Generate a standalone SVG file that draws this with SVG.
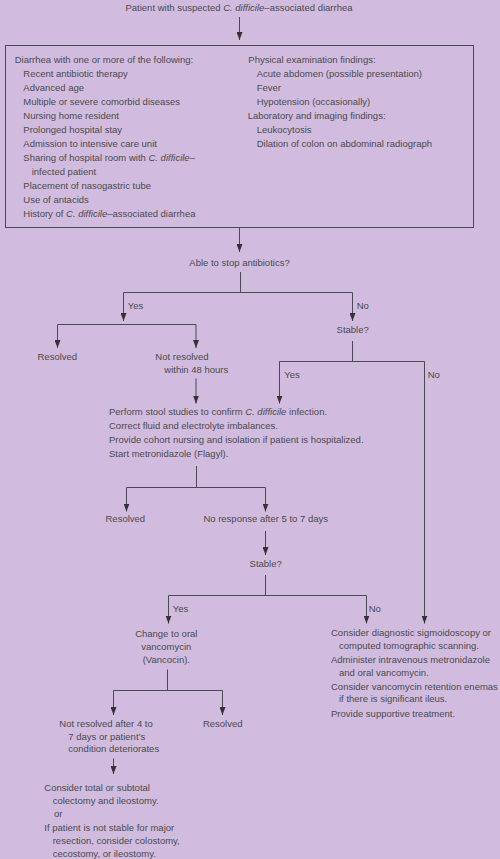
<svg xmlns="http://www.w3.org/2000/svg" width="500" height="859" viewBox="0 0 500 859">
<defs>
<marker id="ah" viewBox="0 0 8 6" markerWidth="8" markerHeight="6" refX="8" refY="3" orient="auto" markerUnits="userSpaceOnUse">
<path d="M0,0 L8,3 L0,6 Z" fill="#333"/>
</marker>
<style>
text{font-family:"Liberation Sans",Arial,sans-serif;font-size:9.5px;fill:#4a4a4a}
.c{text-anchor:middle}
.i{font-style:italic}
.ln{fill:none;stroke:#4a4a52;stroke-width:1}
.ar{fill:none;stroke:#4a4a52;stroke-width:1;marker-end:url(#ah)}
</style>
</defs>
<rect x="0" y="0" width="500" height="859" fill="#D1BCDF"/>

<g id="connectors">
<line class="ar" x1="239.5" y1="17" x2="239.5" y2="40"/>
<line class="ar" x1="239.5" y1="228" x2="239.5" y2="252"/>
<path class="ln" d="M240.5,272 V292.5 M123.5,292.5 H352.5"/>
<line class="ar" x1="123.5" y1="292.5" x2="123.5" y2="321"/>
<line class="ar" x1="352.5" y1="292.5" x2="352.5" y2="321"/>
<path class="ln" d="M57.5,324.5 H196"/>
<line class="ar" x1="57.5" y1="324.5" x2="57.5" y2="348"/>
<line class="ar" x1="196" y1="324.5" x2="196" y2="348"/>
<line class="ar" x1="196" y1="378.5" x2="196" y2="403.5"/>
<path class="ln" d="M352.5,341 V361.5 M279.5,361.5 H424.5"/>
<line class="ar" x1="279.5" y1="361.5" x2="279.5" y2="403.5"/>
<line class="ar" x1="424.5" y1="361.5" x2="424.5" y2="623.5"/>
<path class="ln" d="M196.5,466 V487.5 M126.5,487.5 H265.5"/>
<line class="ar" x1="126.5" y1="487.5" x2="126.5" y2="511.5"/>
<line class="ar" x1="265.5" y1="487.5" x2="265.5" y2="511.5"/>
<line class="ar" x1="265.5" y1="531" x2="265.5" y2="555"/>
<path class="ln" d="M265.5,575 V595.5 M168.5,595.5 H366.5"/>
<line class="ar" x1="168.5" y1="595.5" x2="168.5" y2="623.5"/>
<line class="ar" x1="366.5" y1="595.5" x2="366.5" y2="623.5"/>
<path class="ln" d="M167.5,669.5 V690.5 M113.5,690.5 H222.5"/>
<line class="ar" x1="113.5" y1="690.5" x2="113.5" y2="715"/>
<line class="ar" x1="222.5" y1="690.5" x2="222.5" y2="715"/>
<line class="ar" x1="113.5" y1="758.5" x2="113.5" y2="774"/>
</g>

<g id="start">
<text class="c" x="239" y="10.5">Patient with suspected <tspan class="i">C. difficile</tspan>–associated diarrhea</text>
</g>

<g id="criteria">
<rect x="5.5" y="45.5" width="468" height="182" fill="none" stroke="#4a4a52" stroke-width="1"/>
<text x="14.7" y="62.5">Diarrhea with one or more of the following:</text>
<text x="23.3" y="76.5">Recent antibiotic therapy</text>
<text x="23.3" y="90.5">Advanced age</text>
<text x="23.3" y="104.5">Multiple or severe comorbid diseases</text>
<text x="23.3" y="118.5">Nursing home resident</text>
<text x="23.3" y="132.5">Prolonged hospital stay</text>
<text x="23.3" y="146.5">Admission to intensive care unit</text>
<text x="23.3" y="160.5">Sharing of hospital room with <tspan class="i">C. difficile</tspan>–</text>
<text x="31.7" y="174.5">infected patient</text>
<text x="23.3" y="188.5">Placement of nasogastric tube</text>
<text x="23.3" y="202.5">Use of antacids</text>
<text x="23.3" y="216.5">History of <tspan class="i">C. difficile</tspan>–associated diarrhea</text>
<text x="248.3" y="62.5">Physical examination findings:</text>
<text x="256.7" y="76.5">Acute abdomen (possible presentation)</text>
<text x="256.7" y="90.5">Fever</text>
<text x="256.7" y="104.5">Hypotension (occasionally)</text>
<text x="247.7" y="118.5">Laboratory and imaging findings:</text>
<text x="256.7" y="132.5">Leukocytosis</text>
<text x="256.7" y="146.5">Dilation of colon on abdominal radiograph</text>
</g>

<g id="q-antibiotics">
<text class="c" x="239.5" y="265.5">Able to stop antibiotics?</text>
</g>
<g id="lbl-yes1"><text x="127.7" y="309">Yes</text></g>
<g id="lbl-no1"><text x="356.7" y="309">No</text></g>

<g id="q-stable1">
<text class="c" x="352.7" y="333">Stable?</text>
</g>
<g id="resolved1"><text class="c" x="57.3" y="360">Resolved</text></g>
<g id="not-resolved-48">
<text x="155.3" y="360">Not resolved</text>
<text x="164.3" y="373">within 48 hours</text>
</g>
<g id="lbl-yes2"><text x="284.3" y="378">Yes</text></g>
<g id="lbl-no2"><text x="427.7" y="378">No</text></g>

<g id="stool-studies">
<text x="109" y="414.7">Perform stool studies to confirm <tspan class="i">C. difficile</tspan> infection.</text>
<text x="109" y="428.9">Correct fluid and electrolyte imbalances.</text>
<text x="109" y="443.1">Provide cohort nursing and isolation if patient is hospitalized.</text>
<text x="109" y="457.3">Start metronidazole (Flagyl).</text>
</g>

<g id="resolved2"><text class="c" x="125.3" y="522">Resolved</text></g>
<g id="no-response"><text class="c" x="265.7" y="522">No response after 5 to 7 days</text></g>
<g id="q-stable2"><text class="c" x="265.7" y="567.3">Stable?</text></g>
<g id="lbl-yes3"><text x="172.7" y="612">Yes</text></g>
<g id="lbl-no3"><text x="368.7" y="612">No</text></g>

<g id="vancomycin">
<text class="c" x="166.3" y="637">Change to oral</text>
<text class="c" x="166.3" y="650">vancomycin</text>
<text class="c" x="166.3" y="663.3">(Vancocin).</text>
</g>

<g id="severe-treatment">
<text x="331" y="635.7">Consider diagnostic sigmoidoscopy or</text>
<text x="339" y="648.7">computed tomographic scanning.</text>
<text x="331" y="662.7">Administer intravenous metronidazole</text>
<text x="339" y="675.7">and oral vancomycin.</text>
<text x="331" y="689.7">Consider vancomycin retention enemas</text>
<text x="339" y="702.3">if there is significant ileus.</text>
<text x="331" y="717">Provide supportive treatment.</text>
</g>

<g id="not-resolved-4-7">
<text x="59.3" y="727">Not resolved after 4 to</text>
<text x="68.3" y="739.7">7 days or patient’s</text>
<text x="68.3" y="752.3">condition deteriorates</text>
</g>
<g id="resolved3"><text class="c" x="222.7" y="727">Resolved</text></g>

<g id="surgery">
<text x="44.3" y="790.7">Consider total or subtotal</text>
<text x="52.7" y="804">colectomy and ileostomy.</text>
<text x="54" y="817.3">or</text>
<text x="44.3" y="831">If patient is not stable for major</text>
<text x="52.7" y="843.7">resection, consider colostomy,</text>
<text x="52.7" y="857">cecostomy, or ileostomy.</text>
</g>
</svg>
